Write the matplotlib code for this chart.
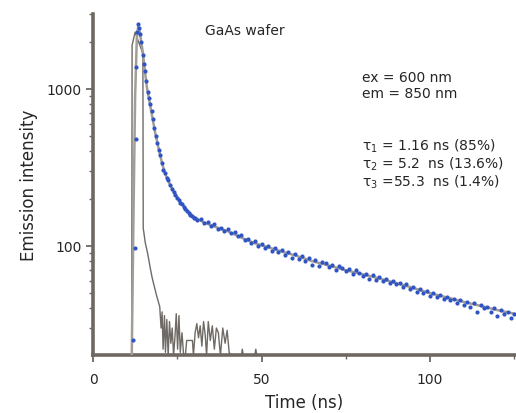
import matplotlib
matplotlib.use("Agg")
import matplotlib.pyplot as plt
from matplotlib.ticker import LogLocator, NullFormatter, FixedLocator

plt.rcParams['font.family'] = ['DejaVu Sans']

# ---- data ----
decay_t = [11.8, 12.4, 12.7, 12.9, 13.2, 13.4, 13.7, 14.0, 14.3, 14.7, 15.1, 15.4, 15.8,
           16.2, 16.6, 17.0, 17.4, 17.8, 18.2, 18.6, 19.0, 19.5, 19.9, 20.4, 20.9, 21.4,
           21.9, 22.4, 22.9, 23.4, 23.9, 24.4, 24.9, 25.4, 25.9, 26.4, 26.9, 27.4, 27.9,
           28.4, 28.9, 29.4, 29.9, 30.4,
           31, 32, 33, 34, 35, 36, 37, 38, 39, 40, 41, 42, 43, 44, 45, 46, 47, 48, 49, 50,
           51, 52, 53, 54, 55, 56, 57, 58, 59, 60, 61, 62, 63, 64, 65, 66, 67, 68, 69, 70,
           71, 72, 73, 74, 75, 76, 77, 78, 79, 80, 81, 82, 83, 84, 85, 86, 87, 88, 89, 90,
           91, 92, 93, 94, 95, 96, 97, 98, 99, 100, 101, 102, 103, 104, 105, 106, 107, 108,
           109, 110, 111, 112, 113, 114, 115, 116, 117, 118, 119, 120, 121, 122, 123, 124, 125]
decay_I = [25, 97, 480, 1380, 2300, 2600, 2450, 2250, 1990, 1650, 1450, 1300, 1120,
           960, 870, 800, 720, 640, 560, 500, 450, 410, 380, 335, 305, 290,
           270, 262, 245, 232, 222, 210, 201, 196, 188, 184, 176, 171, 166,
           163, 157, 154, 151, 150,
           146, 148, 140, 142, 133, 137, 129, 131, 124, 128, 121, 122, 115, 118, 109, 110, 104, 107, 100, 103,
           97, 100, 93, 97, 91, 94, 88, 92, 84, 89, 83, 86, 80, 84, 76, 81, 75, 79, 78, 73,
           76, 70, 74, 72, 69, 71, 66, 70, 67, 64, 66, 62, 65, 61, 63, 60, 62, 58, 60, 57,
           58, 55, 57, 53, 55, 51, 53, 50, 52, 48, 50, 47, 49, 46, 47, 45, 46, 43, 45,
           42, 44, 41, 43, 38, 42, 40, 41, 38, 40, 36, 39, 37, 38, 35, 37]

fit_t = [11.5, 12.0, 12.5, 13.0, 13.4, 13.8, 14.3, 14.8, 15.4, 16.0, 16.8, 17.6, 18.5,
         19.5, 20.5, 21.5, 22.5, 24, 26, 28, 30, 33, 36, 40, 44, 48, 52, 56, 60, 65, 70,
         75, 80, 85, 90, 95, 100, 105, 110, 115, 120, 125]
fit_I = [20, 150, 900, 2100, 2500, 2350, 2000, 1700, 1300, 1020, 820, 660, 520,
         415, 335, 285, 255, 220, 190, 168, 152, 141, 133, 124, 113, 104, 98, 92, 87, 80, 75,
         70, 66, 62, 58, 54, 50, 47, 44, 41.5, 39, 37]

irf_t = [11.0, 11.5, 11.6, 12.5, 13.5, 14.5, 14.8, 14.9, 15.5, 16.2, 17.0, 17.6, 18.3,
         18.9, 19.4, 19.8, 20.2, 20.5, 20.8, 21.2, 21.5, 21.9, 22.3, 22.7, 23.1, 23.5,
         23.9, 24.3, 24.7, 25.1, 25.5, 25.9, 26.4, 26.9, 27.4, 27.8, 29.5, 29.8, 30.3,
         30.8, 31.3, 31.8, 32.3, 32.8, 33.3, 33.7, 34.2, 34.8, 35.4, 36.0, 36.6, 37.2,
         37.8, 38.5, 39.2, 39.8, 40.4, 41.0, 44.0, 44.3, 44.6, 48.0, 48.3, 48.6, 50.0]
irf_I = [20, 20, 1900, 2300, 2000, 1750, 1650, 130, 105, 90, 72, 62, 54,
         48, 44, 41, 30, 38, 22, 36, 21, 34, 20, 33, 24, 30,
         20, 26, 37, 22, 36, 21, 28, 20, 20, 25, 25, 20, 28,
         32, 26, 31, 23, 33, 27, 20, 33, 25, 31, 22, 30, 28,
         20, 30, 24, 29, 21, 20, 20, 22, 20, 20, 22, 20, 20]

x_ticks = [0, 50, 100]
y_ticks = [100, 1000]
y_tick_labels = ['100', '1000']

title_text = 'GaAs wafer'
info_text = 'ex = 600 nm\nem = 850 nm'
tau_text = 'τ$_1$ = 1.16 ns (85%)\nτ$_2$ = 5.2  ns (13.6%)\nτ$_3$ =55.3  ns (1.4%)'

# ---- figure ----
fig = plt.figure(figsize=(5.16, 4.14), dpi=100)
ax = fig.add_axes([93/516, 1-356/414, 1-93/516, (356-15)/414])

axis_col = '#6e6863'
text_col = '#262626'
ax.plot(irf_t, irf_I, color='#6f6a65', lw=1.0, zorder=2)
ax.plot(fit_t, fit_I, color='#a39d97', lw=1.8, zorder=3)
ax.plot(decay_t, decay_I, ls='none', marker='o', ms=3.0, mfc='#2f55c4', mec='#2f55c4',
        mew=0, zorder=4)

ax.set_yscale('log')
ax.set_xlim(0, 125.5)
ax.set_ylim(20.2, 3000)

for s in ['top', 'right']:
    ax.spines[s].set_visible(False)
for s in ['left', 'bottom']:
    ax.spines[s].set_color(axis_col)
    ax.spines[s].set_linewidth(2.6)

ax.xaxis.set_major_locator(FixedLocator(x_ticks))
ax.xaxis.set_minor_locator(FixedLocator([25, 75, 125]))
ax.yaxis.set_major_locator(FixedLocator(y_ticks))
ax.set_yticklabels(y_tick_labels)
ax.yaxis.set_minor_locator(LogLocator(base=10, subs=range(2, 10)))
ax.yaxis.set_minor_formatter(NullFormatter())

ax.tick_params(axis='both', which='major', direction='out', length=5, width=1.3,
               color=axis_col, labelsize=10, labelcolor=text_col)
ax.tick_params(axis='x', which='major', pad=7)
ax.tick_params(axis='y', which='major', pad=3)
ax.tick_params(axis='both', which='minor', direction='out', length=3, width=1.0,
               color=axis_col)

ax.set_xlabel('Time (ns)', fontsize=12, color=text_col, labelpad=5)
ax.set_ylabel('Emission intensity', fontsize=12, color=text_col, labelpad=6)

ax.text(0.265, 0.975, title_text, transform=ax.transAxes, fontsize=10, color=text_col,
        ha='left', va='top')
ax.text(0.635, 0.835, info_text, transform=ax.transAxes, fontsize=10, color=text_col,
        ha='left', va='top', linespacing=1.15)
ax.text(0.635, 0.64, tau_text, transform=ax.transAxes, fontsize=10, color=text_col,
        ha='left', va='top', linespacing=1.05)

fig.savefig('out.png', dpi=100, facecolor='white')
